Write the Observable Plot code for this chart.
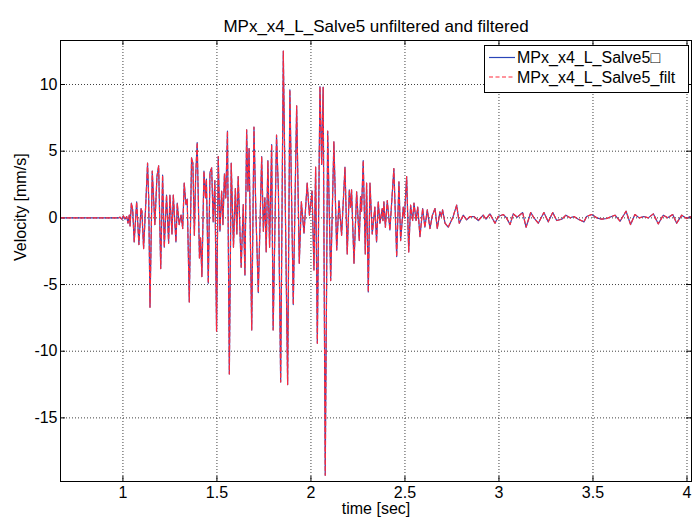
<!DOCTYPE html>
<html><head><meta charset="utf-8">
<script src="https://cdn.jsdelivr.net/npm/d3@7"></script>
<script src="https://cdn.jsdelivr.net/npm/@observablehq/plot@0.6"></script>
<style>body{margin:0;background:#fff}#chart{width:693px;height:522px}</style>
</head><body><div id="chart"></div>
<script>
const titleText = "MPx_x4_L_Salve5 unfiltered and filtered";
const xLabel = "time [sec]";
const yLabel = "Velocity [mm/s]";
const seriesNames = ["MPx_x4_L_Salve5\u25A1", "MPx_x4_L_Salve5_filt"];
const xTicks = [1, 1.5, 2, 2.5, 3, 3.5, 4];
const yTicks = [-15, -10, -5, 0, 5, 10];
const xDomain = [0.668, 4.024];
const yDomain = [-19.77, 13.3];

const time = [0.668,0.979,0.984,0.995,1.002,1.011,1.020,1.027,1.034,1.038,1.045,1.052,1.060,1.073,1.085,1.096,1.101,1.110,1.122,1.131,1.137,1.144,1.156,1.170,1.181,1.190,1.201,1.211,1.220,1.232,1.243,1.250,1.261,1.268,1.282,1.289,1.299,1.309,1.318,1.326,1.335,1.342,1.353,1.365,1.372,1.380,1.387,1.395,1.407,1.413,1.420,1.431,1.439,1.444,1.454,1.463,1.472,1.480,1.489,1.498,1.507,1.516,1.525,1.532,1.540,1.547,1.556,1.566,1.576,1.588,1.598,1.606,1.613,1.629,1.640,1.649,1.658,1.665,1.671,1.685,1.697,1.707,1.720,1.738,1.747,1.755,1.762,1.771,1.780,1.791,1.799,1.817,1.827,1.839,1.853,1.876,1.888,1.906,1.924,1.938,1.949,1.963,1.980,1.992,2.006,2.016,2.025,2.034,2.048,2.057,2.065,2.076,2.089,2.105,2.122,2.137,2.149,2.163,2.181,2.193,2.204,2.211,2.216,2.229,2.243,2.257,2.264,2.269,2.278,2.289,2.296,2.305,2.314,2.326,2.340,2.349,2.358,2.367,2.379,2.383,2.388,2.396,2.406,2.420,2.441,2.456,2.468,2.477,2.491,2.497,2.509,2.520,2.530,2.541,2.548,2.559,2.568,2.580,2.594,2.606,2.619,2.633,2.646,2.660,2.672,2.686,2.693,2.700,2.713,2.730,2.754,2.775,2.789,2.810,2.828,2.846,2.867,2.890,2.916,2.931,2.952,2.979,2.996,3.023,3.040,3.059,3.076,3.097,3.126,3.144,3.169,3.186,3.209,3.239,3.262,3.286,3.307,3.334,3.356,3.378,3.399,3.422,3.452,3.466,3.493,3.520,3.546,3.573,3.599,3.617,3.644,3.676,3.700,3.723,3.746,3.771,3.794,3.821,3.847,3.874,3.897,3.924,3.945,3.972,3.998,4.016,4.024];

const unfiltered = [0,0,0.05,-0.1,0.15,-0.1,0.1,-0.4,0.2,-0.6,1.1,0.6,-1.8,1.2,-2.0,0.7,0.5,-2.3,1.2,4.1,1.5,-6.7,3.5,-0.5,3.1,3.9,-3.8,3.2,-2.2,1.7,-1.9,1.7,-1.2,1.7,-1.8,1.1,-0.5,0.2,-0.8,2.6,1.0,1.4,-6.3,4.5,4.1,-1.3,3.2,5.65,-3.0,-1.5,-4.4,3.5,1.5,2.9,-4.9,3.4,3.75,-0.3,2.8,-8.5,4.6,-1.0,2.0,-0.5,3.3,1.5,6.5,-11.7,4.1,-2.2,2.2,-1.2,3.1,-3.7,1.0,-4.3,6.6,2.0,5.2,-8.4,6.8,0.5,-5.6,4.6,-1.0,1.5,-2.55,4.3,-2.2,5.5,-8.4,6.2,2.0,-12.3,12.5,-12.5,9.6,-6.5,8.4,-3.4,1.2,-1.15,2.6,0.2,2.0,-3.9,3.8,-9.4,9.85,4.0,9.8,-19.3,6.5,-4.7,5.7,-2.4,1.3,-1.3,3.8,-2.7,2.1,0.8,2.1,-3.4,1.95,-1.7,1.6,0.5,4.3,-2.7,2.6,-5.55,2.6,-1.2,0.8,-1.8,1.2,-0.4,0.7,-0.2,1.2,-0.7,1.3,-0.9,3.7,-2.9,2.7,-1.7,0.8,0.0,3.1,-2.55,0.95,-0.2,1.1,-0.2,0.8,-1.4,0.7,-0.7,0.6,-0.8,0.2,0.7,-0.8,0.45,0.1,0.6,-0.4,-0.7,0.0,0.95,-0.4,0.2,-0.15,0.1,0.1,-0.2,0.2,-0.1,0.3,-0.4,0.1,0.25,0.0,-0.5,0.3,0.05,0.4,-0.7,0.4,0.0,-0.4,0.4,-0.3,0.4,-0.2,-0.1,0.2,0.0,0.1,-0.1,-0.3,0.1,0.25,0.0,-0.1,-0.05,0.1,0.2,-0.25,0.5,-0.5,0.25,0.0,0.1,0.0,0.3,-0.45,0.2,0.0,0.25,-0.4,0.2,-0.05,0.1,0.0];

// the filtered trace is visually indistinguishable from the unfiltered one
const filtered = unfiltered.slice();

const colors = ["#2a45b8", "#ff2a3a"];

const rowsU = time.map((t, i) => ({t, v: unfiltered[i]}));
const rowsF = time.map((t, i) => ({t, v: filtered[i]}));

const font = "'Liberation Sans', Arial, Helvetica, sans-serif";
const tickLenX = (yDomain[1] - yDomain[0]) * 5 / 440;
const tickLenY = (xDomain[1] - xDomain[0]) * 5 / 631;

const plot = Plot.plot({
  width: 693,
  height: 522,
  marginLeft: 60,
  marginRight: 2,
  marginTop: 40,
  marginBottom: 41,
  style: {fontFamily: font, fontSize: "16px", background: "#fff", color: "#000"},
  x: {domain: xDomain},
  y: {domain: yDomain},
  marks: [
    Plot.gridX(xTicks, {stroke: "#000", strokeOpacity: 0.75, strokeDasharray: "1,2"}),
    Plot.gridY(yTicks, {stroke: "#000", strokeOpacity: 0.75, strokeDasharray: "1,2"}),
    Plot.ruleX(xTicks, {y1: yDomain[0], y2: yDomain[0] + tickLenX, stroke: "#000"}),
    Plot.ruleX(xTicks, {y1: yDomain[1], y2: yDomain[1] - tickLenX, stroke: "#000"}),
    Plot.ruleY(yTicks, {x1: xDomain[0], x2: xDomain[0] + tickLenY, stroke: "#000"}),
    Plot.ruleY(yTicks, {x1: xDomain[1], x2: xDomain[1] - tickLenY, stroke: "#000"}),
    Plot.line(rowsU, {x: "t", y: "v", stroke: colors[0], strokeWidth: 1.2}),
    Plot.line(rowsF, {x: "t", y: "v", stroke: colors[1], strokeWidth: 1.2, strokeDasharray: "4,2.5"}),
    Plot.frame({stroke: "#000", strokeWidth: 1}),
    Plot.axisX(xTicks, {anchor: "bottom", tickSize: 0, tickPadding: 5, label: null, fontSize: 16, tickFormat: d => String(d)}),
    Plot.axisY(yTicks, {anchor: "left", tickSize: 0, tickPadding: 3, label: null, fontSize: 16, tickFormat: d => String(d)}),
    Plot.text([titleText], {text: d => d, frameAnchor: "top", dy: -21, fontSize: 17}),
    Plot.text([xLabel], {text: d => d, frameAnchor: "bottom", dy: 32, fontSize: 16}),
    Plot.text([yLabel], {text: d => d, frameAnchor: "left", dx: -40, rotate: -90, fontSize: 16})
  ]
});

document.getElementById("chart").appendChild(plot);

// legend
const svg = d3.select(plot);
const lg = svg.append("g").attr("font-family", font).attr("font-size", 16).attr("text-anchor", "start");
lg.append("rect").attr("x", 484.5).attr("y", 45.5).attr("width", 204).attr("height", 47)
  .attr("fill", "#fff").attr("stroke", "#000");
seriesNames.forEach((name, i) => {
  const y = 57.5 + i * 19.5;
  lg.append("line").attr("x1", 489).attr("x2", 515).attr("y1", y).attr("y2", y)
    .attr("stroke", colors[i]).attr("stroke-width", 1.2)
    .attr("stroke-dasharray", i === 1 ? "4,2.5" : null);
  lg.append("text").attr("x", 517).attr("y", y).attr("dy", "0.35em")
    .attr("text-anchor", "start").attr("fill", "#000").text(name);
});
</script>
</body></html>
